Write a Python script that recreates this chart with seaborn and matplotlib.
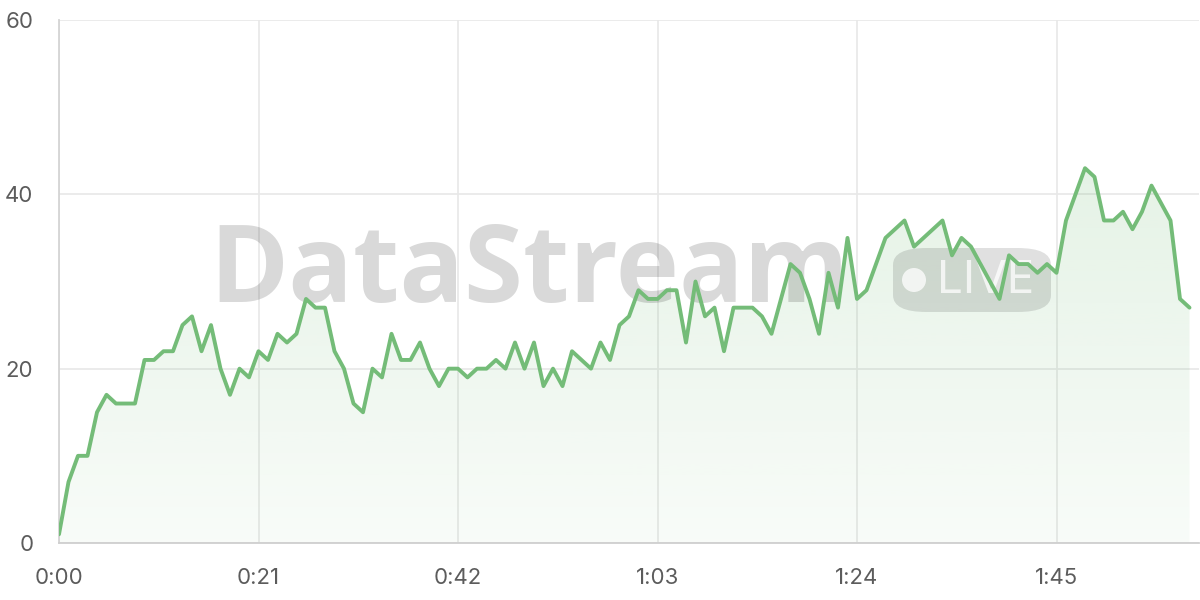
import numpy as np
import pandas as pd
import seaborn as sns
import matplotlib.pyplot as plt
from matplotlib.colors import to_rgb
from matplotlib.patches import FancyBboxPatch, Polygon, Ellipse
from matplotlib.ticker import FuncFormatter

# data: one reading per second
seconds = list(range(120))
values = [
    1, 7, 10, 10, 15, 17, 16, 16, 16, 21, 21, 22, 22, 25, 26, 22, 25, 20, 17, 20,
    19, 22, 21, 24, 23, 24, 28, 27, 27, 22, 20, 16, 15, 20, 19, 24, 21, 21, 23, 20,
    18, 20, 20, 19, 20, 20, 21, 20, 23, 20, 23, 18, 20, 18, 22, 21, 20, 23, 21, 25,
    26, 29, 28, 28, 29, 29, 23, 30, 26, 27, 22, 27, 27, 27, 26, 24, 28, 32, 31, 28,
    24, 31, 27, 35, 28, 29, 32, 35, 36, 37, 34, 35, 36, 37, 33, 35, 34, 32, 30, 28,
    33, 32, 32, 31, 32, 31, 37, 40, 43, 42, 37, 37, 38, 36, 38, 41, 39, 37, 28, 27,
]
x_ticks = [0, 21, 42, 63, 84, 105]
y_ticks = [0, 20, 40, 60]

df = pd.DataFrame({'t': seconds, 'value': values})

line_color = '#74bc78'
grid_color = '#e8e8e8'
text_color = '#5c5c5c'

sns.set_style('white')
plt.rcParams['font.family'] = ['Inter', 'DejaVu Sans']

fig = plt.figure(figsize=(12, 6), dpi=100)
ax = fig.add_axes([59 / 1200, 57 / 600, 1140 / 1200, 523 / 600])

# gradient fill under the line (alpha fades towards the bottom)
rgba = np.zeros((256, 1, 4))
rgba[:, :, :3] = to_rgb(line_color)
rgba[:, 0, 3] = np.linspace(0.05, 0.24, 256)
img = ax.imshow(rgba, extent=[0, 120, 0, 60], origin='lower', aspect='auto', zorder=1)
verts = [(seconds[0], 0)] + list(zip(seconds, values)) + [(seconds[-1], 0)]
clip = Polygon(verts, closed=True, transform=ax.transData, facecolor='none', edgecolor='none')
ax.add_patch(clip)
img.set_clip_path(clip)

sns.lineplot(data=df, x='t', y='value', ax=ax, color=line_color, linewidth=2.8, zorder=5)

# watermark, under the line
ax.text(529 / 1200, 326 / 600, 'DataStream', transform=fig.transFigure, fontsize=77,
        fontweight='bold', family='Open Sans', color='black', alpha=0.15,
        ha='center', va='center', zorder=4)
box = FancyBboxPatch((893 / 1200, 288 / 600), 158 / 1200, 64 / 600,
                     boxstyle='round,pad=0,rounding_size=0.028', transform=fig.transFigure,
                     facecolor='black', alpha=0.12, edgecolor='none', zorder=4)
ax.add_patch(box)
dot = Ellipse((914 / 1200, 320 / 600), 24 / 1200, 24 / 600, transform=fig.transFigure,
              facecolor='white', alpha=0.75, edgecolor='none', zorder=4)
ax.add_patch(dot)
ax.text(986 / 1200, 319 / 600, 'LIVE', transform=fig.transFigure, fontsize=33,
        color='white', alpha=0.75, ha='center', va='center', zorder=4)

ax.set_xlim(0, 120)
ax.set_ylim(0, 60)
ax.xaxis.set_major_locator(plt.FixedLocator(x_ticks))
ax.yaxis.set_major_locator(plt.FixedLocator(y_ticks))
ax.xaxis.set_major_formatter(FuncFormatter(lambda v, p: f'{int(v) // 60}:{int(v) % 60:02d}'))
ax.set_xlabel('')
ax.set_ylabel('')

ax.grid(True, color=grid_color, linewidth=1.2, zorder=0)
ax.set_axisbelow(True)
for side in ['top', 'right']:
    ax.spines[side].set_visible(False)
ax.spines['left'].set_color('#d4d4d4')
ax.spines['bottom'].set_color('#cfcfcf')
ax.spines['left'].set_linewidth(1.3)
ax.spines['bottom'].set_linewidth(1.3)
ax.tick_params(axis='x', length=11, width=1.2, color=grid_color, pad=7,
               labelsize=16, labelcolor=text_color)
ax.tick_params(axis='y', length=11.5, width=1.2, color=grid_color, pad=7,
               labelsize=16, labelcolor=text_color)

fig.savefig('out.png', dpi=100)
